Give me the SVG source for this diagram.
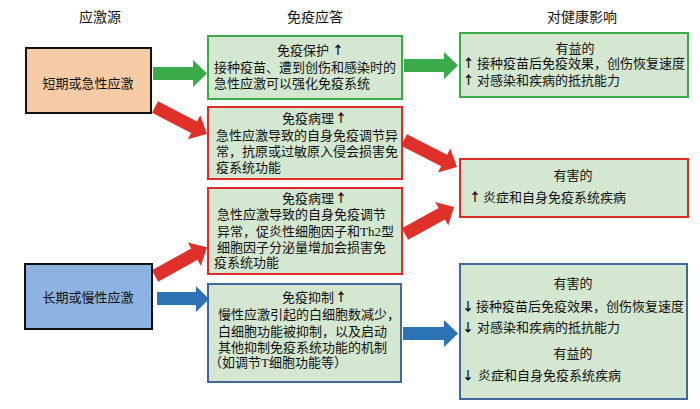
<svg xmlns="http://www.w3.org/2000/svg" width="700" height="409" viewBox="0 0 700 409">
<style>
text{font-family:"Liberation Serif","Noto Sans CJK SC",serif;font-size:13px;fill:#111}
.h{font-size:14px;text-anchor:middle}
.c{text-anchor:middle}
.ar{font-family:"Noto Sans CJK SC","DejaVu Sans",sans-serif;font-size:12px;font-weight:bold}
.box{fill:#D4E7D0;stroke-width:2}
.g{stroke:#3BAA4A}
.r{stroke:#E02A2A}
.b{stroke:#44679B}
.ga{fill:#3BAA4A}
.ra{fill:#E0302A}
.ba{fill:#2C73B4}
</style>
<rect width="700" height="409" fill="#fff"/>
<g id="headers">
<text class="h" x="100" y="22">应激源</text>
<text class="h" x="315" y="22">免疫应答</text>
<text class="h" x="582" y="22">对健康影响</text>
</g>
<g id="connectors">
<polygon class="ga" points="153,67 193,67 193,60 207,73.5 193,87 193,80 153,80"/>
<polygon class="ga" points="404,59 444,59 444,52 458,65.5 444,79 444,72 404,72"/>
<polygon class="ba" points="157,292 196,292 196,286 209,299 196,312 196,305 157,305"/>
<polygon class="ba" points="403,327 444,327 444,320 458,333.5 444,347 444,340 403,340"/>
<polygon class="ra" transform="translate(155,107) rotate(27.4)" points="0,-6.5 44,-6.5 44,-13.5 58.6,0 44,13.5 44,6.5 0,6.5"/>
<polygon class="ra" transform="translate(404,140) rotate(27)" points="0,-6.5 45,-6.5 45,-13.5 59.5,0 45,13.5 45,6.5 0,6.5"/>
<polygon class="ra" transform="translate(405,234) rotate(-28.9)" points="0,-6.5 42,-6.5 42,-13.5 56,0 42,13.5 42,6.5 0,6.5"/>
<polygon class="ra" transform="translate(155,276) rotate(-29)" points="0,-6.5 45,-6.5 45,-13.5 59.5,0 45,13.5 45,6.5 0,6.5"/>
</g>
<g id="src-acute">
<rect x="26" y="48" width="125" height="65" fill="#F7CBA6" stroke="#111" stroke-width="2"/>
<text class="c" x="88" y="88">短期或急性应激</text>
</g>
<g id="src-chronic">
<rect x="25" y="264" width="127" height="65" fill="#8DB3E2" stroke="#111" stroke-width="2"/>
<text class="c" x="88" y="302">长期或慢性应激</text>
</g>
<g id="resp-protect">
<rect class="box g" x="208" y="36" width="194" height="63"/>
<text x="277" y="55">免疫保护<tspan class="ar" x="332">↑</tspan></text>
<text x="214" y="72">接种疫苗、遭到创伤和感染时的</text>
<text x="214" y="88">急性应激可以强化免疫系统</text>
</g>
<g id="resp-path1">
<rect class="box r" x="208" y="107" width="194" height="72"/>
<text x="282" y="123">免疫病理<tspan class="ar" x="335">↑</tspan></text>
<text x="216" y="140">急性应激导致的自身免疫调节异</text>
<text x="216" y="156">常，抗原或过敏原入侵会损害免</text>
<text x="216" y="172">疫系统功能</text>
</g>
<g id="resp-path2">
<rect class="box r" x="208" y="188" width="194" height="86"/>
<text x="282" y="203">免疫病理<tspan class="ar" x="335">↑</tspan></text>
<text x="217" y="219">急性应激导致的自身免疫调节</text>
<text x="217" y="236">异常，促炎性细胞因子和Th2型</text>
<text x="217" y="252">细胞因子分泌量增加会损害免</text>
<text x="214" y="267">疫系统功能</text>
</g>
<g id="resp-suppress">
<rect class="box b" x="208" y="284" width="193" height="98"/>
<text x="282" y="302">免疫抑制<tspan class="ar" x="335">↑</tspan></text>
<text x="218" y="319">慢性应激引起的白细胞数减少，</text>
<text x="218" y="336">白细胞功能被抑制，以及启动</text>
<text x="218" y="352">其他抑制免疫系统功能的机制</text>
<text x="209" y="367">（如调节T细胞功能等）</text>
</g>
<g id="eff-benefit">
<rect class="box g" x="460" y="33" width="228" height="64"/>
<text class="c" x="575" y="53">有益的</text>
<text y="68"><tspan class="ar" x="462.5">↑</tspan><tspan x="477">接种疫苗后免疫效果，创伤恢复速度</tspan></text>
<text y="85"><tspan class="ar" x="462.5">↑</tspan><tspan x="477">对感染和疾病的抵抗能力</tspan></text>
</g>
<g id="eff-harm">
<rect class="box r" x="460" y="159" width="228" height="58"/>
<text class="c" x="573" y="180">有害的</text>
<text y="202"><tspan class="ar" x="469">↑</tspan><tspan x="483">炎症和自身免疫系统疾病</tspan></text>
</g>
<g id="eff-chronic">
<rect class="box b" x="460" y="264" width="227" height="135"/>
<text class="c" x="573" y="288">有害的</text>
<text y="311"><tspan class="ar" x="462">↓</tspan><tspan x="476">接种疫苗后免疫效果，创伤恢复速度</tspan></text>
<text y="332"><tspan class="ar" x="462">↓</tspan><tspan x="477">对感染和疾病的抵抗能力</tspan></text>
<text class="c" x="573" y="358">有益的</text>
<text y="380"><tspan class="ar" x="462">↓</tspan><tspan x="478">炎症和自身免疫系统疾病</tspan></text>
</g>
</svg>
